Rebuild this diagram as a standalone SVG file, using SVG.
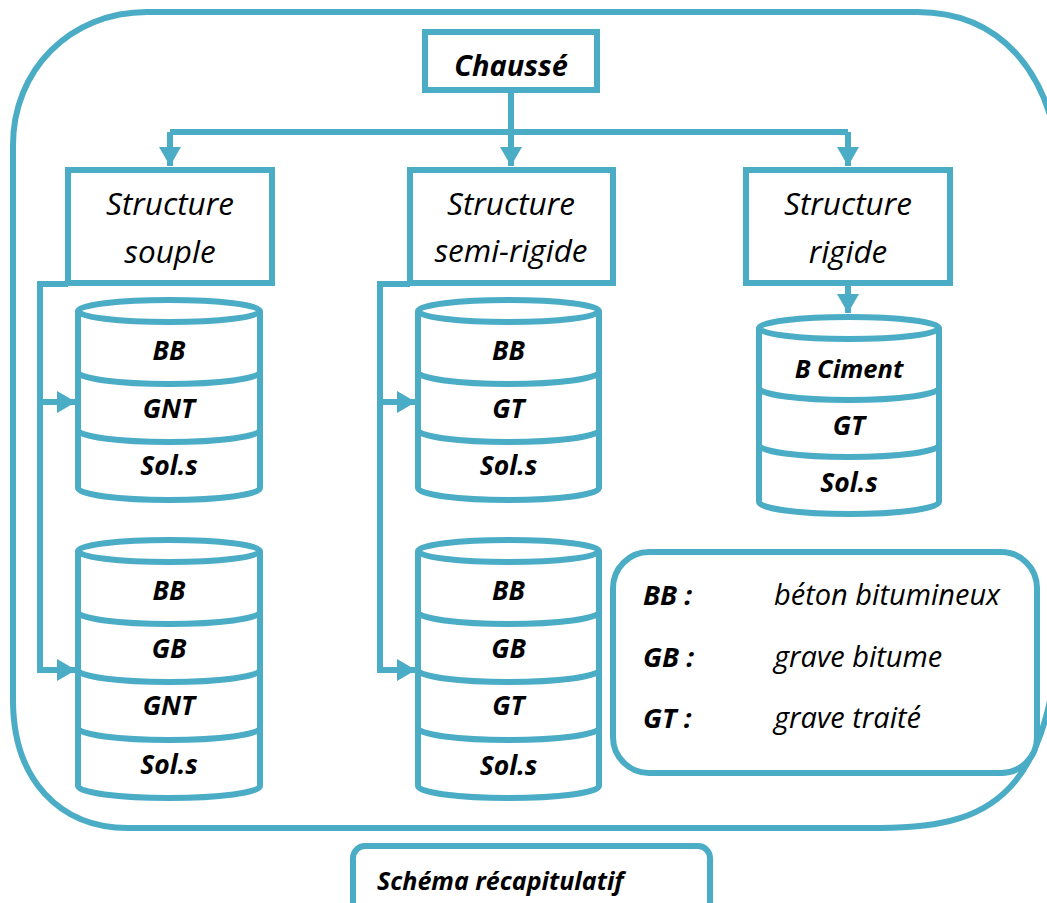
<svg xmlns="http://www.w3.org/2000/svg" width="1047" height="903" viewBox="0 0 1047 903">
<style>
.ln{fill:none;stroke:#4BACC6;stroke-width:6}
.bx{fill:#fff;stroke:#4BACC6;stroke-width:6}
.cyl{fill:#fff;stroke:#4BACC6;stroke-width:6}
.arc{fill:none;stroke:#4BACC6;stroke-width:6}
.st{font-family:"Open Sans","Liberation Sans",sans-serif;font-style:italic;font-size:31.5px;fill:#000;text-anchor:middle}
.lb{font-family:"Open Sans","Liberation Sans",sans-serif;font-style:italic;font-weight:bold;font-size:26.5px;fill:#000;text-anchor:middle}
.lg{font-family:"Open Sans","Liberation Sans",sans-serif;font-style:italic;font-size:29px;fill:#000}
.lgb{font-family:"Open Sans","Liberation Sans",sans-serif;font-style:italic;font-weight:bold;font-size:27.5px;fill:#000}
</style>
<defs>
<marker id="ah" markerUnits="userSpaceOnUse" markerWidth="20" markerHeight="22" viewBox="0 0 20 22" refX="19" refY="11" orient="auto">
<path d="M0,0 L19,11 L0,22 z" fill="#4BACC6"/>
</marker>
</defs>
<rect width="1047" height="903" fill="#fff"/>
<g id="frame">
<path class="ln" d="M147,12 H917 C990,12 1060,60 1062,200 V560 C1062,790 1000,828 880,828 H128 C60,828 13,780 13,700 V145 C13,70 70,12 147,12 Z"/>
</g>
<g id="connectors">
<path class="ln" d="M511,90 V132"/>
<path class="ln" d="M170,132 H848"/>
<path class="ln" d="M170,132 V166" marker-end="url(#ah)"/>
<path class="ln" d="M511,132 V166" marker-end="url(#ah)"/>
<path class="ln" d="M848,132 V166" marker-end="url(#ah)"/>
<path class="ln" d="M848,283 V313" marker-end="url(#ah)"/>
<path class="ln" d="M68,284 H40 V670 H76" marker-end="url(#ah)"/>
<path class="ln" d="M40,402 H76" marker-end="url(#ah)"/>
<path class="ln" d="M410,284 H380 V670 H416" marker-end="url(#ah)"/>
<path class="ln" d="M380,402 H416" marker-end="url(#ah)"/>
</g>
<g id="chausse">
<rect class="bx" x="425" y="32" width="172" height="58"/>
<text class="lb" x="511" y="76" style="font-size:29px">Chaussé</text>
</g>
<g id="structure-souple">
<rect class="bx" x="68" y="170" width="204" height="113"/>
<text class="st" x="170" y="215">Structure</text>
<text class="st" x="170" y="263">souple</text>
</g>
<g id="structure-semi-rigide">
<rect class="bx" x="410" y="170" width="203" height="113"/>
<text class="st" x="511" y="215">Structure</text>
<text class="st" x="511" y="262">semi-rigide</text>
</g>
<g id="structure-rigide">
<rect class="bx" x="746" y="170" width="204" height="113"/>
<text class="st" x="848" y="215">Structure</text>
<text class="st" x="848" y="263">rigide</text>
</g>
<g id="cyl-souple-1">
<path class="cyl" d="M78,311 V488 A91,12 0 0 0 260,488 V311"/>
<ellipse class="cyl" cx="169" cy="311" rx="91" ry="11"/>
<path class="arc" d="M78,372 A91,12 0 0 0 260,372 M78,430 A91,12 0 0 0 260,430"/>
<text class="lb" x="169" y="360">BB</text>
<text class="lb" x="169" y="418">GNT</text>
<text class="lb" x="169" y="475">Sol.s</text>
</g>
<g id="cyl-souple-2">
<path class="cyl" d="M78,551 V786 A91,12 0 0 0 260,786 V551"/>
<ellipse class="cyl" cx="169" cy="551" rx="91" ry="11"/>
<path class="arc" d="M78,612 A91,12 0 0 0 260,612 M78,670 A91,12 0 0 0 260,670 M78,728 A91,12 0 0 0 260,728"/>
<text class="lb" x="169" y="600">BB</text>
<text class="lb" x="169" y="658">GB</text>
<text class="lb" x="169" y="715">GNT</text>
<text class="lb" x="169" y="774">Sol.s</text>
</g>
<g id="cyl-semi-1">
<path class="cyl" d="M418,311 V488 A90.5,12 0 0 0 599,488 V311"/>
<ellipse class="cyl" cx="508.5" cy="311" rx="90.5" ry="11"/>
<path class="arc" d="M418,372 A90.5,12 0 0 0 599,372 M418,430 A90.5,12 0 0 0 599,430"/>
<text class="lb" x="508.5" y="360">BB</text>
<text class="lb" x="508.5" y="418">GT</text>
<text class="lb" x="508.5" y="475">Sol.s</text>
</g>
<g id="cyl-semi-2">
<path class="cyl" d="M418,551 V786 A90.5,12 0 0 0 599,786 V551"/>
<ellipse class="cyl" cx="508.5" cy="551" rx="90.5" ry="11"/>
<path class="arc" d="M418,612 A90.5,12 0 0 0 599,612 M418,670 A90.5,12 0 0 0 599,670 M418,728 A90.5,12 0 0 0 599,728"/>
<text class="lb" x="508.5" y="600">BB</text>
<text class="lb" x="508.5" y="658">GB</text>
<text class="lb" x="508.5" y="715">GT</text>
<text class="lb" x="508.5" y="775">Sol.s</text>
</g>
<g id="cyl-rigide">
<path class="cyl" d="M759,328 V502 A90,12 0 0 0 939,502 V328"/>
<ellipse class="cyl" cx="849" cy="328" rx="90" ry="11"/>
<path class="arc" d="M759,388 A90,12 0 0 0 939,388 M759,445 A90,12 0 0 0 939,445"/>
<text class="lb" x="849" y="378" style="font-size:25.5px">B Ciment</text>
<text class="lb" x="849" y="435">GT</text>
<text class="lb" x="849" y="492">Sol.s</text>
</g>
<g id="legend">
<rect class="bx" x="613" y="552" width="424" height="221" rx="36" ry="36"/>
<text class="lgb" x="643" y="605">BB :</text>
<text class="lg" x="774" y="605">béton bitumineux</text>
<text class="lgb" x="643" y="667">GB :</text>
<text class="lg" x="774" y="667">grave bitume</text>
<text class="lgb" x="643" y="728">GT :</text>
<text class="lg" x="774" y="728">grave traité</text>
</g>
<g id="caption">
<rect class="bx" x="353" y="846" width="357" height="90" rx="12" ry="12"/>
<text class="lgb" x="377" y="890" style="font-size:25px">Schéma récapitulatif</text>
</g>
</svg>
